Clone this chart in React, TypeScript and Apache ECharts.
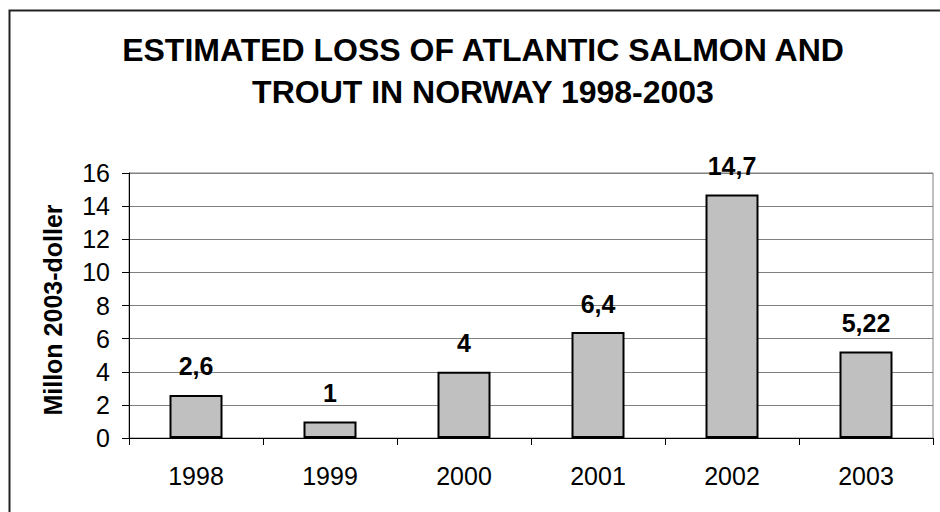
import React, { useEffect, useRef } from "react";
import * as echarts from "echarts";

const categories = ["1998", "1999", "2000", "2001", "2002", "2003"];
const values = [2.6, 1, 4, 6.4, 14.7, 5.22];
const valueLabels = ["2,6", "1", "4", "6,4", "14,7", "5,22"];
const titleLines = ["ESTIMATED LOSS OF ATLANTIC SALMON AND", "TROUT IN NORWAY 1998-2003"];
const yAxisName = "Millon 2003-doller";

const FONT = "'Liberation Sans', Arial, sans-serif";

export default function App() {
  const ref = useRef<HTMLDivElement>(null);
  useEffect(() => {
    document.body.style.margin = "0";
    if (!ref.current) return;
    const chart = echarts.init(ref.current, undefined, { renderer: "svg" });
    chart.setOption({
      animation: false,
      backgroundColor: "#ffffff",
      textStyle: { fontFamily: FONT },
      grid: {
        left: 129,
        right: 7,
        top: 173,
        bottom: 74,
        show: true,
        borderColor: "#808080",
        borderWidth: 1,
      },
      graphic: [
        {
          type: "rect",
          shape: { x: 9.5, y: 10.5, width: 1000, height: 1000 },
          style: { fill: "none", stroke: "#222", lineWidth: 2 },
          z: 100,
        },
        {
          type: "text",
          x: 483,
          y: 50,
          style: {
            text: titleLines[0],
            textAlign: "center",
            textVerticalAlign: "middle",
            fontFamily: FONT,
            fontWeight: "bold",
            fontSize: 32,
            fill: "#000",
          },
        },
        {
          type: "text",
          x: 483,
          y: 92,
          style: {
            text: titleLines[1],
            textAlign: "center",
            textVerticalAlign: "middle",
            fontFamily: FONT,
            fontWeight: "bold",
            fontSize: 32,
            fill: "#000",
          },
        },
        {
          type: "text",
          x: 53,
          y: 310,
          rotation: Math.PI / 2,
          style: {
            text: yAxisName,
            textAlign: "center",
            textVerticalAlign: "middle",
            fontFamily: FONT,
            fontWeight: "bold",
            fontSize: 25,
            fill: "#000",
          },
        },
      ],
      xAxis: {
        type: "category",
        data: categories,
        boundaryGap: true,
        axisLine: { show: true, lineStyle: { color: "#000", width: 1 } },
        axisTick: { show: true, length: 7, lineStyle: { color: "#000" } },
        axisLabel: { color: "#000", fontSize: 25, fontFamily: FONT, margin: 25 },
        splitLine: { show: false },
      },
      yAxis: {
        type: "value",
        min: 0,
        max: 16,
        interval: 2,
        axisLine: { show: true, lineStyle: { color: "#000", width: 1 } },
        axisTick: { show: true, length: 7, lineStyle: { color: "#000" } },
        axisLabel: { color: "#000", fontSize: 25, fontFamily: FONT, margin: 19 },
        splitLine: { show: true, lineStyle: { color: "#808080", width: 1 } },
      },
      series: [
        {
          type: "bar",
          data: values,
          barWidth: 53,
          itemStyle: { color: "#c0c0c0", borderColor: "#000", borderWidth: 2 },
          label: {
            show: true,
            position: "top",
            distance: 16,
            color: "#000",
            fontSize: 25,
            fontWeight: "bold",
            fontFamily: FONT,
            formatter: (p: any) => valueLabels[p.dataIndex],
          },
        },
      ],
    });
    return () => chart.dispose();
  }, []);
  return <div ref={ref} style={{ width: 940, height: 512 }} />;
}
